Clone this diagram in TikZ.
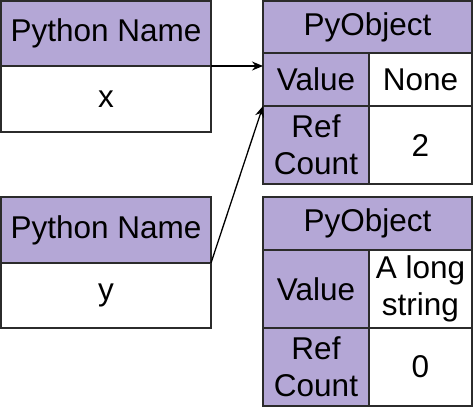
\documentclass[tikz,border=0pt]{standalone}
\usepackage{fontspec}
\setmainfont{Liberation Sans}
\usetikzlibrary{arrows.meta,positioning}
\definecolor{headfill}{HTML}{B4A7D6}
\definecolor{boxline}{HTML}{2B2B2B}
\tikzset{
	cell/.style={rectangle, draw=boxline, line width=1.3pt, inner sep=0pt, outer sep=0pt,
		align=center, anchor=north west, font=\fontsize{31.5}{37}\selectfont},
	headcell/.style={cell, fill=headfill},
	valcell/.style={cell, fill=white},
	refarr/.style={-{Stealth[length=11pt,width=9pt]}, line width=1.3pt}
}

\begin{document}
\begin{tikzpicture}[x=1pt, y=-1pt]
	\useasboundingbox (0,0) rectangle (474,408);
	% python names
	\node[headcell, minimum width=210pt, minimum height=65pt] (namex) at (1,1) {Python Name};
	\node[valcell, minimum width=210pt, minimum height=66pt] (valx) at (1,66) {x};
	\node[headcell, minimum width=210pt, minimum height=66pt] (namey) at (1,197) {Python Name};
	\node[valcell, minimum width=210pt, minimum height=65pt] (valy) at (1,263) {y};
	% first object
	\node[headcell, minimum width=209pt, minimum height=52pt] (objA) at (263,1) {PyObject};
	\node[headcell, minimum width=106pt, minimum height=53pt] (valkeyA) at (263,53) {Value};
	\node[valcell, minimum width=103pt, minimum height=53pt] (valA) at (369,53) {None};
	\node[headcell, minimum width=106pt, minimum height=78pt] (refkeyA) at (263,106) {Ref\\Count};
	\node[valcell, minimum width=103pt, minimum height=78pt] (refA) at (369,106) {2};
	% second object
	\node[headcell, minimum width=209pt, minimum height=53pt] (objB) at (263,197) {PyObject};
	\node[headcell, minimum width=106pt, minimum height=78pt] (valkeyB) at (263,250) {Value};
	\node[valcell, minimum width=103pt, minimum height=78pt] (valB) at (369,250) {A long\\string};
	\node[headcell, minimum width=106pt, minimum height=78pt] (refkeyB) at (263,328) {Ref\\Count};
	\node[valcell, minimum width=103pt, minimum height=78pt] (refB) at (369,328) {0};
	% references
	\draw[refarr] (namex.south east) -- (namex.south east -| valkeyA.west);
	\draw[refarr] (namey.south east) -- (refkeyA.north west);
\end{tikzpicture}
\end{document}
